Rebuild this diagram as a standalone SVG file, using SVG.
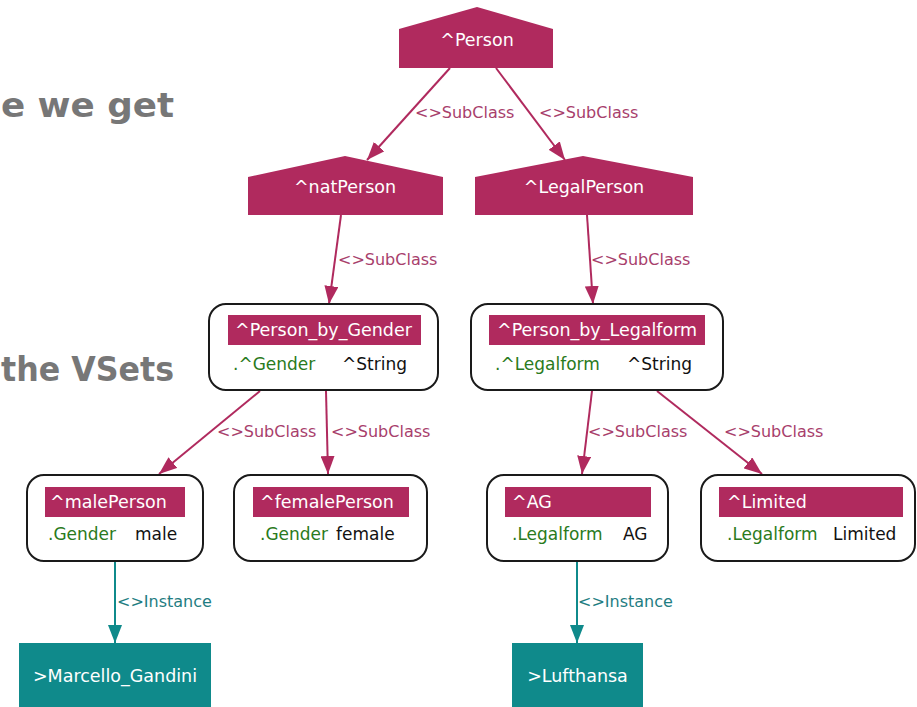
<svg xmlns="http://www.w3.org/2000/svg" width="917" height="707" viewBox="0 0 917 707">
  <defs>
    <style>
      text { font-family: "DejaVu Sans", "Liberation Sans", sans-serif; }
      .title { font-size: 34px; font-weight: bold; fill: #777777; }
      .cls { fill: #b02a5e; }
      .inst { fill: #0f8a8b; }
      .box { fill: #ffffff; stroke: #1a1a1a; stroke-width: 2; }
      .hdr { fill: #b02a5e; }
      .ntxt { font-size: 17.5px; fill: #ffffff; }
      .attr { font-size: 17px; fill: #2a7a20; }
      .val { font-size: 17px; fill: #111111; }
      .mid { text-anchor: middle; }
      .e-sub { stroke: #b02a5e; stroke-width: 2; fill: none; marker-end: url(#arrSub); }
      .e-inst { stroke: #0f8a8b; stroke-width: 2; fill: none; marker-end: url(#arrInst); }
      .lbl-sub { font-size: 16px; fill: #a8406c; }
      .lbl-inst { font-size: 16px; fill: #1f7d82; }
    </style>
    <marker id="arrSub" markerUnits="userSpaceOnUse" markerWidth="18" markerHeight="14" refX="18" refY="7" orient="auto">
      <path d="M0,0 L18,7 L0,14 z" fill="#b02a5e"/>
    </marker>
    <marker id="arrInst" markerUnits="userSpaceOnUse" markerWidth="18" markerHeight="14" refX="18" refY="7" orient="auto">
      <path d="M0,0 L18,7 L0,14 z" fill="#0f8a8b"/>
    </marker>
  </defs>

  <rect width="917" height="707" fill="#ffffff"/>

  <!-- slide headline fragments -->
  <text class="title" x="1" y="117" textLength="173" lengthAdjust="spacingAndGlyphs">e we get</text>
  <text class="title" x="1" y="381" textLength="173" lengthAdjust="spacingAndGlyphs">the VSets</text>

  <!-- connectors -->
  <g id="edges">
    <line class="e-sub" x1="450" y1="68" x2="367" y2="160"/>
    <line class="e-sub" x1="496" y1="68" x2="565" y2="160"/>
    <line class="e-sub" x1="341" y1="215" x2="329" y2="304"/>
    <line class="e-sub" x1="587" y1="215" x2="593" y2="304"/>
    <line class="e-sub" x1="260" y1="391" x2="159" y2="474"/>
    <line class="e-sub" x1="326" y1="391" x2="328" y2="474"/>
    <line class="e-sub" x1="592" y1="391" x2="582" y2="474"/>
    <line class="e-sub" x1="657" y1="391" x2="762" y2="474"/>
    <line class="e-inst" x1="115" y1="561" x2="115" y2="643"/>
    <line class="e-inst" x1="577" y1="561" x2="577" y2="643"/>

    <text class="lbl-sub" x="415" y="118">&lt;&gt;SubClass</text>
    <text class="lbl-sub" x="539" y="118">&lt;&gt;SubClass</text>
    <text class="lbl-sub" x="338" y="265">&lt;&gt;SubClass</text>
    <text class="lbl-sub" x="591" y="265">&lt;&gt;SubClass</text>
    <text class="lbl-sub" x="217" y="437">&lt;&gt;SubClass</text>
    <text class="lbl-sub" x="331" y="437">&lt;&gt;SubClass</text>
    <text class="lbl-sub" x="588" y="437">&lt;&gt;SubClass</text>
    <text class="lbl-sub" x="724" y="437">&lt;&gt;SubClass</text>
    <text class="lbl-inst" x="117" y="607">&lt;&gt;Instance</text>
    <text class="lbl-inst" x="578" y="607">&lt;&gt;Instance</text>
  </g>

  <!-- abstract classes (house shapes) -->
  <g id="Person">
    <polygon class="cls" points="399,68 399,29 477,7 553,29 553,68"/>
    <text class="ntxt mid" x="477" y="46">^Person</text>
  </g>
  <g id="natPerson">
    <polygon class="cls" points="248,215 248,177 345,156 443,177 443,215"/>
    <text class="ntxt mid" x="345" y="193">^natPerson</text>
  </g>
  <g id="LegalPerson">
    <polygon class="cls" points="475,215 475,177 583,156 693,177 693,215"/>
    <text class="ntxt mid" x="584" y="193">^LegalPerson</text>
  </g>

  <!-- value sets -->
  <g id="Person_by_Gender">
    <rect class="box" x="209" y="304" width="229" height="86" rx="17"/>
    <rect class="hdr" x="228" y="315" width="193" height="30"/>
    <text class="ntxt" x="235" y="336">^Person_by_Gender</text>
    <text class="attr" x="233" y="370">.^Gender</text>
    <text class="val" x="342" y="370">^String</text>
  </g>
  <g id="Person_by_Legalform">
    <rect class="box" x="471" y="304" width="252" height="86" rx="17"/>
    <rect class="hdr" x="489" y="315" width="216" height="30"/>
    <text class="ntxt" x="497" y="336">^Person_by_Legalform</text>
    <text class="attr" x="495" y="370">.^Legalform</text>
    <text class="val" x="627" y="370">^String</text>
  </g>
  <g id="malePerson">
    <rect class="box" x="27" y="475" width="176" height="86" rx="17"/>
    <rect class="hdr" x="45" y="487" width="140" height="30"/>
    <text class="ntxt" x="50" y="508">^malePerson</text>
    <text class="attr" x="48" y="540">.Gender</text>
    <text class="val" x="135" y="540">male</text>
  </g>
  <g id="femalePerson">
    <rect class="box" x="234" y="475" width="193" height="86" rx="17"/>
    <rect class="hdr" x="253" y="487" width="156" height="30"/>
    <text class="ntxt" x="260" y="508">^femalePerson</text>
    <text class="attr" x="260" y="540">.Gender</text>
    <text class="val" x="336" y="540">female</text>
  </g>
  <g id="AG">
    <rect class="box" x="487" y="475" width="181" height="86" rx="17"/>
    <rect class="hdr" x="505" y="487" width="146" height="30"/>
    <text class="ntxt" x="512" y="508">^AG</text>
    <text class="attr" x="512" y="540">.Legalform</text>
    <text class="val" x="623" y="540">AG</text>
  </g>
  <g id="Limited">
    <rect class="box" x="701" y="475" width="214" height="86" rx="17"/>
    <rect class="hdr" x="719" y="487" width="184" height="30"/>
    <text class="ntxt" x="727" y="508">^Limited</text>
    <text class="attr" x="727" y="540">.Legalform</text>
    <text class="val" x="833" y="540">Limited</text>
  </g>

  <!-- instances -->
  <g id="Marcello_Gandini">
    <rect class="inst" x="19" y="643" width="192" height="70"/>
    <text class="ntxt mid" x="115" y="682">&gt;Marcello_Gandini</text>
  </g>
  <g id="Lufthansa">
    <rect class="inst" x="512" y="643" width="131" height="70"/>
    <text class="ntxt mid" x="577.5" y="682">&gt;Lufthansa</text>
  </g>
</svg>
